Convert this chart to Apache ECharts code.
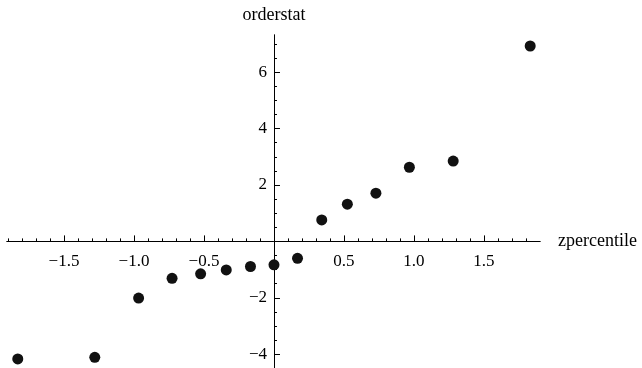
<!DOCTYPE html>
<html>
<head>
<meta charset="utf-8">
<script src="https://cdn.jsdelivr.net/npm/echarts@6/dist/echarts.min.js"></script>
<style>
  html, body { margin: 0; padding: 0; background: #fff; }
  #chart { width: 642px; height: 368px; }
</style>
</head>
<body>
<div id="chart"></div>
<script>
// normal quantiles vs ordered sample
const zpercentile = [-1.83, -1.28, -0.967, -0.728, -0.524, -0.341, -0.168, 0.0, 0.168, 0.341, 0.524, 0.728, 0.967, 1.28, 1.83];
const orderstat = [-4.17, -4.11, -2.01, -1.31, -1.15, -1.01, -0.89, -0.83, -0.60, 0.76, 1.32, 1.71, 2.63, 2.85, 6.93];

const xMajorTicks = [-1.5, -1.0, -0.5, 0.5, 1.0, 1.5];
const yMajorTicks = [-4, -2, 2, 4, 6];
const xMinorTicks = [-1.9, -1.8, -1.7, -1.6, -1.4, -1.3, -1.2, -1.1, -0.9, -0.8, -0.7, -0.6, -0.4, -0.3, -0.2, -0.1,
  0.1, 0.2, 0.3, 0.4, 0.6, 0.7, 0.8, 0.9, 1.1, 1.2, 1.3, 1.4, 1.6, 1.7, 1.8];
const yMinorTicks = [-3.5, -3, -2.5, -1.5, -1, -0.5, 0.5, 1, 1.5, 2.5, 3, 3.5, 4.5, 5, 5.5, 6.5, 7];

const FONT = 'Liberation Serif';
const GRID = { left: 7, right: 102, top: 35, bottom: 0 };
const minus = v => (v < 0 ? '\u2212' : '');

const el = document.getElementById('chart');
const chart = echarts.init(el);

const axisLineStyle = { color: '#000', width: 1 };

function xAxisBase() {
  return {
    type: 'value',
    min: -1.907,
    max: 1.9,
    position: 'bottom',
    splitLine: { show: false },
    axisLine: { show: true, onZero: false, lineStyle: axisLineStyle }
  };
}
function yAxisBase() {
  return {
    type: 'value',
    min: -4.49,
    max: 7.32,
    position: 'left',
    splitLine: { show: false },
    axisLine: { show: true, onZero: false, lineStyle: axisLineStyle }
  };
}

chart.setOption({
  backgroundColor: '#fff',
  animation: false,
  grid: Object.assign({ containLabel: false, outerBoundsMode: 'none' }, GRID),
  xAxis: [
    Object.assign(xAxisBase(), {
      name: 'zpercentile',
      nameLocation: 'end',
      nameGap: 18,
      nameTextStyle: { fontFamily: FONT, fontSize: 18, color: '#000' },
      axisTick: { show: true, inside: true, length: 6, customValues: xMajorTicks, lineStyle: axisLineStyle },
      axisLabel: {
        show: true, customValues: xMajorTicks, margin: 12,
        fontFamily: FONT, fontSize: 17, color: '#000',
        formatter: v => minus(v) + Math.abs(v).toFixed(1)
      }
    }),
    Object.assign(xAxisBase(), {
      axisTick: { show: true, inside: true, length: 3, customValues: xMinorTicks, lineStyle: axisLineStyle },
      axisLabel: { show: false }
    })
  ],
  yAxis: [
    Object.assign(yAxisBase(), {
      name: 'orderstat',
      nameLocation: 'end',
      nameGap: 11,
      nameTextStyle: { fontFamily: FONT, fontSize: 18, color: '#000' },
      axisTick: { show: true, inside: true, length: 6, customValues: yMajorTicks, lineStyle: axisLineStyle },
      axisLabel: {
        show: true, customValues: yMajorTicks, margin: 7,
        fontFamily: FONT, fontSize: 17, color: '#000',
        formatter: v => minus(v) + Math.abs(v)
      }
    }),
    Object.assign(yAxisBase(), {
      axisTick: { show: true, inside: true, length: 3, customValues: yMinorTicks, lineStyle: axisLineStyle },
      axisLabel: { show: false }
    })
  ],
  series: [
    {
      type: 'scatter',
      xAxisIndex: 0,
      yAxisIndex: 0,
      symbol: 'circle',
      symbolSize: 11,
      itemStyle: { color: '#111', opacity: 1 },
      data: zpercentile.map((x, i) => [x, orderstat[i]])
    }
  ]
});

// move both axes so they cross at the origin (labels follow too)
const zeroX = chart.convertToPixel({ xAxisIndex: 0 }, 0);
const zeroY = chart.convertToPixel({ yAxisIndex: 0 }, 0);
const xOff = -((el.clientHeight - GRID.bottom) - zeroY);
const yOff = -(zeroX - GRID.left);
chart.setOption({
  xAxis: [{ offset: xOff }, { offset: xOff }],
  yAxis: [{ offset: yOff }, { offset: yOff }]
});
</script>
</body>
</html>
